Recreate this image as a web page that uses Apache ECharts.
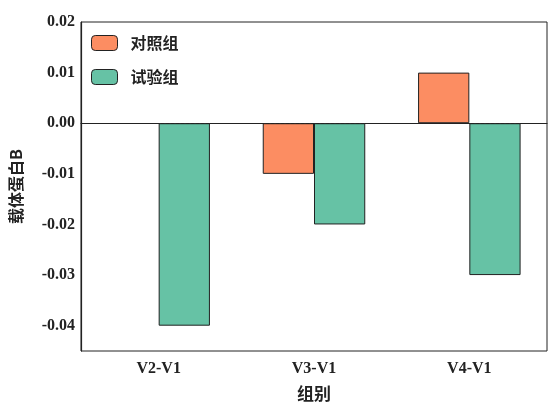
<!DOCTYPE html>
<html><head><meta charset="utf-8">
<script src="https://cdn.jsdelivr.net/npm/echarts@6/dist/echarts.min.js"></script>
<style>html,body{margin:0;padding:0;background:#fff}#c{width:557px;height:409px}</style>
</head><body><div id="c"></div>
<script>
const categories = ['V2-V1','V3-V1','V4-V1'];
const control = [0, -0.01, 0.01];
const treatment = [-0.04, -0.02, -0.03];
const seriesNames = ['对照组','试验组'];
const chart = echarts.init(document.getElementById('c'));
const serif = 'Liberation Serif';
const cjk = 'Noto Sans CJK SC';
chart.setOption({
  animation:false,
  grid:{left:80,right:10,top:22,bottom:58,show:true,borderColor:'#222',borderWidth:1},
  legend:{left:86,top:30,orient:'vertical',itemWidth:26,itemHeight:15,itemGap:18,
    textStyle:{fontFamily:cjk,fontWeight:'bold',fontSize:16,color:'#222',padding:[0,0,0,8]},
    itemStyle:{borderColor:'#222',borderWidth:1},
    data:seriesNames},
  xAxis:{type:'category',data:categories,
    name:'组别',nameLocation:'middle',nameGap:34,
    nameTextStyle:{fontFamily:cjk,fontWeight:'bold',fontSize:17,color:'#222'},
    axisLine:{lineStyle:{color:'#222',width:1.2}},
    axisTick:{inside:true,alignWithLabel:true,length:8,lineStyle:{color:'#222',width:1.2}},
    axisLabel:{fontFamily:serif,fontWeight:'bold',fontSize:16,color:'#222',margin:10}},
  yAxis:{type:'value',min:-0.045,max:0.02,interval:0.005,
    name:'载体蛋白B',nameLocation:'middle',nameGap:57,
    nameTextStyle:{fontFamily:cjk,fontWeight:'bold',fontSize:16,color:'#222'},
    axisLine:{show:true,lineStyle:{color:'#222',width:1.2}},
    axisTick:{inside:true,length:5,lineStyle:{color:'#222',width:1.2}},
    splitLine:{show:false},
    axisLabel:{fontFamily:serif,fontWeight:'bold',fontSize:16,color:'#222',margin:6,
      formatter:v=>{const k=Math.round(v*1000);if(k%10!==0)return '';return (k/1000).toFixed(2);}}},
  series:[
    {name:seriesNames[0],type:'bar',data:control.map(v=>v===0?'-':v),barGap:'0%',barCategoryGap:'34%',
      itemStyle:{color:'#FC8D62',borderColor:'#222',borderWidth:1},
      markLine:{symbol:'none',silent:true,label:{show:false},
        lineStyle:{type:[3,2],color:'#222',width:1.2},data:[{yAxis:0}]}},
    {name:seriesNames[1],type:'bar',data:treatment,
      itemStyle:{color:'#66C2A5',borderColor:'#222',borderWidth:1}}
  ]
});
</script></body></html>
